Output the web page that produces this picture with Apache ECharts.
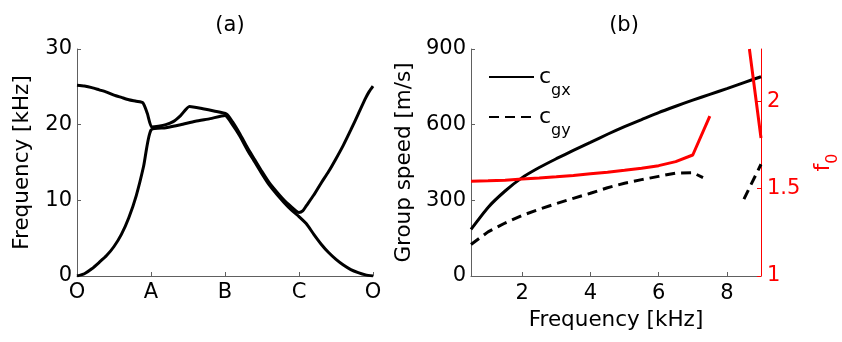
<!DOCTYPE html>
<html>
<head>
<meta charset="utf-8">
<script src="https://cdn.jsdelivr.net/npm/echarts@6/dist/echarts.min.js"></script>
<style>
  body { margin: 0; background: #fff; }
  #main { width: 842px; height: 342px; }
</style>
</head>
<body>
<div id="main"></div>
<script>
// (a) dispersion curves along the O-A-B-C-O path
var pathTicks = ['O', 'A', 'B', 'C', 'O'];
var lowerPos = [0, 0.1, 0.2, 0.3, 0.4, 0.5, 0.6, 0.7, 0.8, 0.9, 1.0, 1.2, 1.4, 1.6, 1.8, 2.0,
  2.1, 2.2, 2.3, 2.4, 2.5, 2.6, 2.7, 2.8, 2.9, 3.0, 3.1, 3.2, 3.3, 3.4, 3.5, 3.6, 3.7, 3.8, 3.9, 4.0];
var lowerFreq = [0, 0.3, 0.95, 1.8, 2.7, 3.9, 5.5, 7.7, 10.6, 14.5, 19.3, 19.6, 20.0, 20.45, 20.8, 21.2,
  20.0, 18.5, 16.7, 15.1, 13.5, 12.0, 10.8, 9.7, 8.7, 7.85, 6.9, 5.5, 4.2, 3.1, 2.2, 1.45, 0.85, 0.45, 0.15, 0];
var upperPos = [0, 0.1, 0.2, 0.3, 0.4, 0.5, 0.6, 0.7, 0.8, 0.89, 0.95, 1.01, 1.1, 1.2, 1.3, 1.4, 1.52,
  1.7, 1.85, 2.02, 2.1, 2.2, 2.3, 2.4, 2.5, 2.6, 2.7, 2.8, 2.9, 2.96, 3.0, 3.05,
  3.1, 3.2, 3.3, 3.4, 3.5, 3.6, 3.7, 3.8, 3.9, 3.95, 4.0];
var upperFreq = [25.2, 25.1, 24.9, 24.6, 24.3, 23.9, 23.6, 23.3, 23.1, 22.9, 21.5, 19.7, 19.8, 20.0, 20.4, 21.2, 22.4,
  22.1, 21.8, 21.4, 20.4, 18.8, 17.0, 15.4, 13.8, 12.3, 11.1, 10.0, 9.1, 8.6, 8.4, 8.6,
  9.3, 10.7, 12.3, 13.8, 15.5, 17.3, 19.3, 21.4, 23.5, 24.4, 25.1];

// (b) group speeds and f0 against frequency
var speedFreq = [0.5, 1, 1.5, 2, 2.5, 3, 3.5, 4, 4.5, 5, 5.5, 6, 6.5, 7, 7.5, 8, 8.5, 9];
var cgx = [185, 272, 337, 390, 430, 465, 498, 530, 562, 592, 620, 648, 673, 697, 720, 743, 767, 790];
var cgyFreq = [0.5, 1, 1.5, 2, 2.5, 3, 3.5, 4, 4.5, 5, 5.5, 6, 6.5, 7, 7.3, 7.9, 8.5, 9];
var cgy = [125, 175, 210, 240, 265, 287, 308, 328, 350, 368, 382, 395, 408, 410, 390, null, 305, 443];
var f0Freq = [0.5, 1, 1.5, 2, 2.5, 3, 3.5, 4, 4.5, 5, 5.5, 6, 6.5, 7, 7.5, 8.1, 8.66, 9];
var f0 = [1.542, 1.545, 1.549, 1.555, 1.561, 1.568, 1.576, 1.585, 1.594, 1.605, 1.617, 1.632, 1.655, 1.693, 1.915, null, 2.30, 1.79];

function pairs(xs, ys) {
  return xs.map(function (x, i) { return [x, ys[i]]; });
}

var font = 'DejaVu Sans, sans-serif';
var fs = 21;
var axisGrey = '#606060';
var red = '#ff0000';

var chart = echarts.init(document.getElementById('main'));
chart.setOption({
  animation: false,
  textStyle: { fontFamily: font },
  title: [
    { text: '(a)', left: 225, top: 10, textAlign: 'center',
      textStyle: { fontSize: fs, fontWeight: 'normal', color: '#000', fontFamily: font } },
    { text: '(b)', left: 619, top: 10, textAlign: 'center',
      textStyle: { fontSize: fs, fontWeight: 'normal', color: '#000', fontFamily: font } }
  ],
  legend: {
    left: 488, top: 66, padding: 0, orient: 'vertical', itemWidth: 45, itemHeight: 14, itemGap: 7,
    itemStyle: { opacity: 0 },
    data: ['cgx', 'cgy'],
    formatter: function (name) { return '{c|c}{s|' + name.slice(1) + '}'; },
    textStyle: {
      color: '#000',
      rich: {
        c: { fontSize: 22, fontFamily: font, color: '#000' },
        s: { fontSize: 16, fontFamily: font, color: '#000', padding: [28, 0, 0, 0] }
      }
    }
  },
  grid: [
    { left: 77, top: 49, width: 296, height: 227 },
    { left: 471, top: 49, width: 296, height: 227 }
  ],
  xAxis: [
    { gridIndex: 0, type: 'value', min: 0, max: 4, interval: 1,
      axisLine: { lineStyle: { color: axisGrey, width: 1 } },
      axisTick: { inside: true, length: 4, lineStyle: { color: axisGrey } },
      splitLine: { show: false },
      axisLabel: { fontSize: fs, color: '#000', margin: 6,
        formatter: function (v) { return pathTicks[Math.round(v)]; } } },
    { gridIndex: 1, type: 'value', min: 0.5, max: 9, splitNumber: 4,
      axisLine: { lineStyle: { color: axisGrey, width: 1 } },
      axisTick: { inside: true, length: 4, lineStyle: { color: axisGrey } },
      splitLine: { show: false },
      axisLabel: { fontSize: fs, color: '#000', margin: 7, showMinLabel: false, showMaxLabel: false },
      name: 'Frequency [kHz]', nameLocation: 'middle', nameGap: 33,
      nameTextStyle: { fontSize: 21.5, color: '#000' } }
  ],
  yAxis: [
    { gridIndex: 0, type: 'value', min: 0, max: 30, interval: 10,
      axisLine: { show: true, lineStyle: { color: axisGrey, width: 1 } },
      axisTick: { show: true, inside: true, length: 4, lineStyle: { color: axisGrey } },
      splitLine: { show: false },
      axisLabel: { fontSize: fs, color: '#000', margin: 5 },
      name: 'Frequency [kHz]', nameLocation: 'middle', nameGap: 44,
      nameTextStyle: { fontSize: 21.5, color: '#000' } },
    { gridIndex: 1, type: 'value', min: 0, max: 900, interval: 300,
      axisLine: { show: true, lineStyle: { color: axisGrey, width: 1 } },
      axisTick: { show: true, inside: true, length: 4, lineStyle: { color: axisGrey } },
      splitLine: { show: false },
      axisLabel: { fontSize: fs, color: '#000', margin: 5 },
      name: 'Group speed [m/s]', nameLocation: 'middle', nameGap: 56,
      nameTextStyle: { fontSize: 21.5, color: '#000' } },
    { gridIndex: 1, type: 'value', position: 'right', min: 1, max: 2.3, interval: 0.5,
      axisLine: { show: true, lineStyle: { color: red, width: 1 } },
      axisTick: { show: true, inside: true, length: 4, lineStyle: { color: red } },
      splitLine: { show: false },
      axisLabel: { fontSize: fs, color: red, margin: 6, showMaxLabel: false },
      name: '{f|f}{s|0}', nameLocation: 'middle', nameGap: 44,
      nameTextStyle: { color: red,
        rich: { f: { fontSize: 22, color: red, fontFamily: font },
                s: { fontSize: 16, color: red, fontFamily: font, padding: [20, 0, 0, 0] } } } }
  ],
  series: [
    { type: 'line', xAxisIndex: 0, yAxisIndex: 0, symbol: 'none', smooth: 0.2,
      lineStyle: { color: '#000', width: 3 }, data: pairs(lowerPos, lowerFreq) },
    { type: 'line', xAxisIndex: 0, yAxisIndex: 0, symbol: 'none', smooth: 0.2,
      lineStyle: { color: '#000', width: 3 }, data: pairs(upperPos, upperFreq) },
    { name: 'cgx', type: 'line', xAxisIndex: 1, yAxisIndex: 1, symbol: 'none', smooth: 0.2,
      itemStyle: { color: '#000' },
      lineStyle: { color: '#000', width: 3 }, data: pairs(speedFreq, cgx) },
    { name: 'cgy', type: 'line', xAxisIndex: 1, yAxisIndex: 1, symbol: 'none',
      itemStyle: { color: '#000' },
      lineStyle: { color: '#000', width: 3, type: [10, 6] }, data: pairs(cgyFreq, cgy) },
    { name: 'f0', type: 'line', xAxisIndex: 1, yAxisIndex: 2, symbol: 'none',
      itemStyle: { color: red },
      lineStyle: { color: red, width: 3 }, data: pairs(f0Freq, f0) }
  ]
});
</script>
</body>
</html>
